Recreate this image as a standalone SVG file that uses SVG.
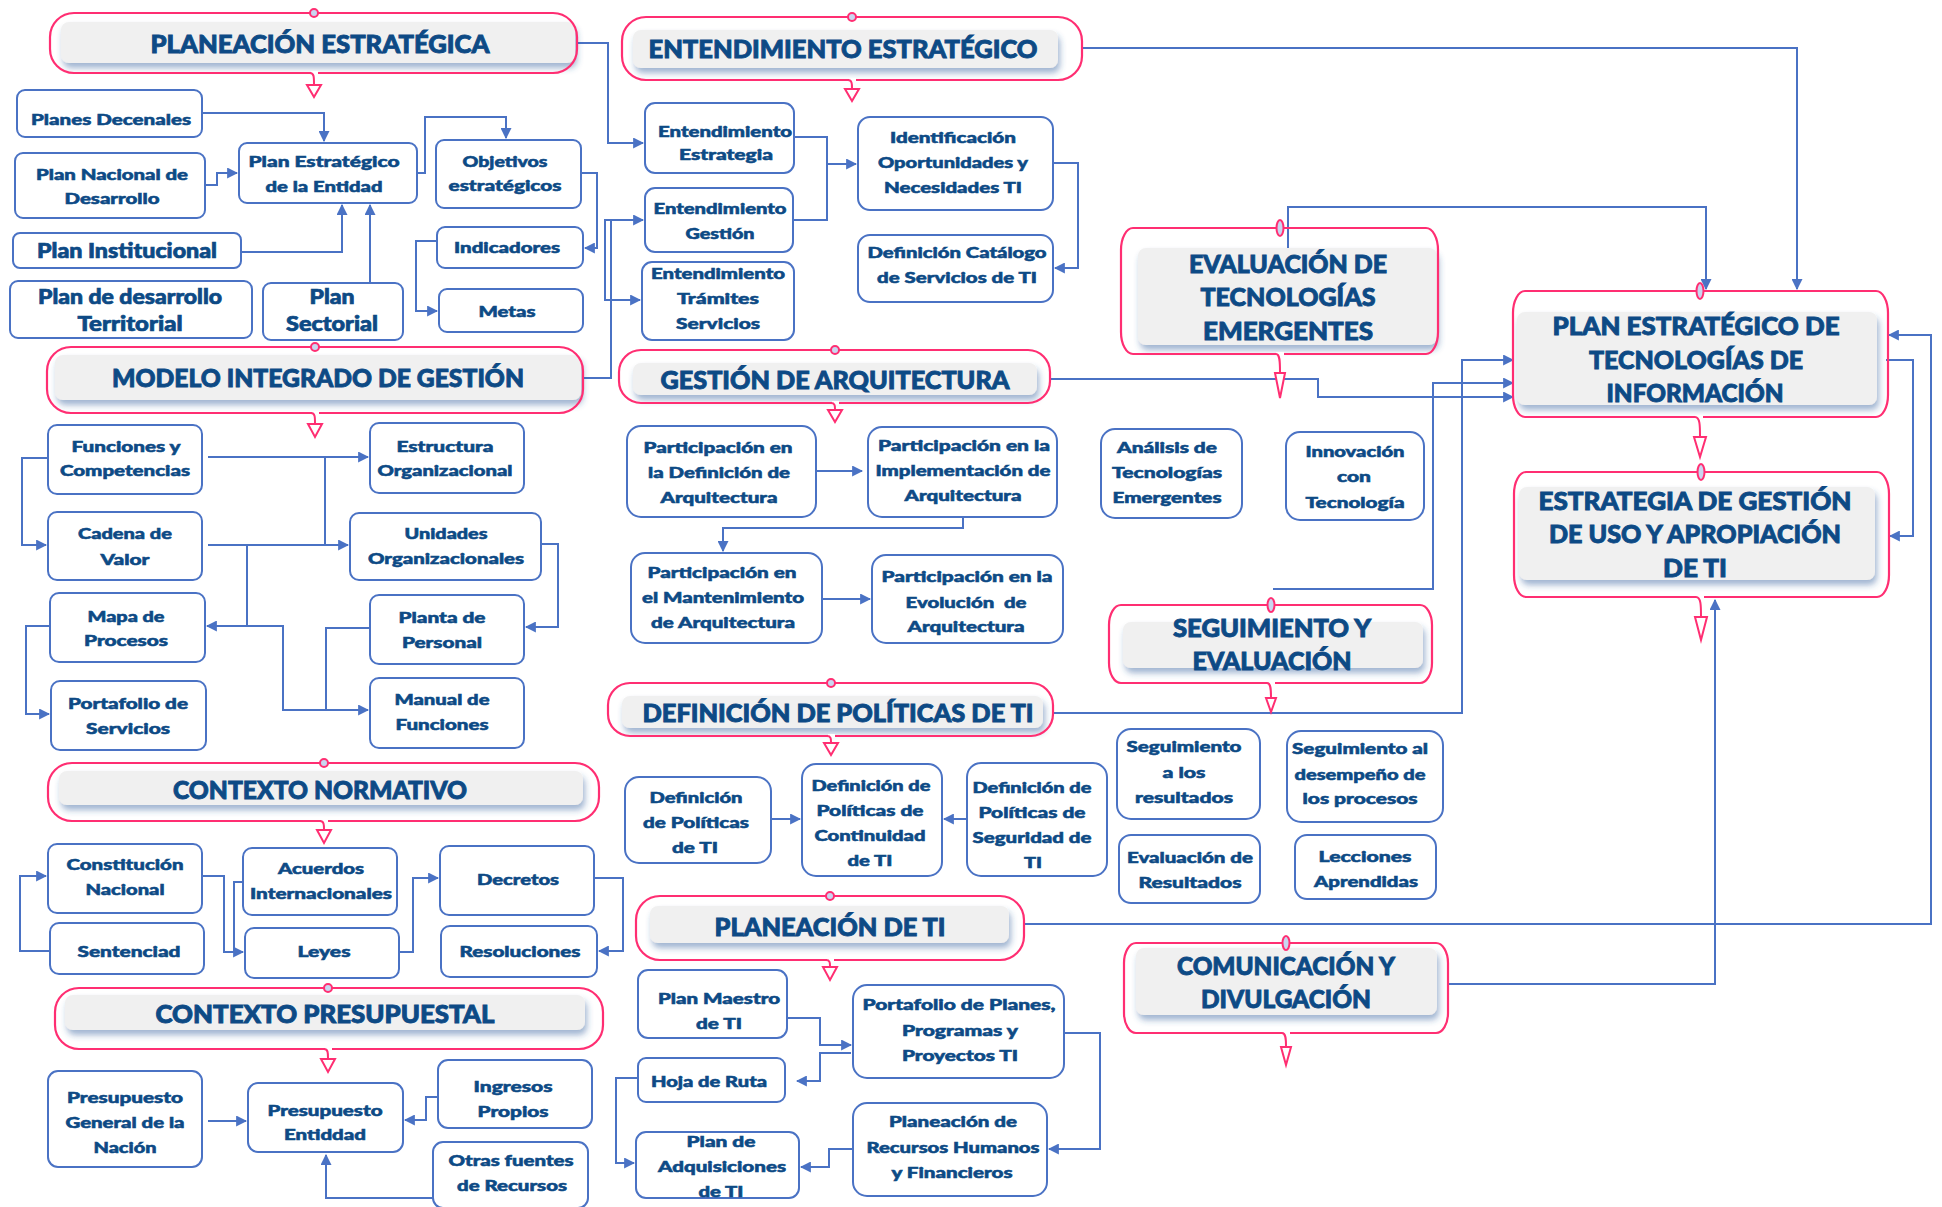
<svg xmlns="http://www.w3.org/2000/svg" width="1942" height="1207" viewBox="0 0 1942 1207">
<defs>
<style>
.pk{fill:none;stroke:#ff2e72;stroke-width:2.2}
.gb{fill:#f0f0f0;filter:url(#sh)}
.tt{font-family:Lato,'Open Sans','Liberation Sans',sans-serif;font-weight:900;fill:#0d4a85;stroke:#0d4a85;stroke-width:0.9;text-anchor:middle;font-size:25px}
.bx{fill:#fff;stroke:#4a72c4;stroke-width:2}
.bt{font-family:Lato,'Open Sans','Liberation Sans',sans-serif;font-weight:900;fill:#0d4a85;stroke:#0d4a85;stroke-width:0.55;text-anchor:middle;font-size:15px}
.bl{font-size:20px;stroke-width:0.7}
.cn{fill:none;stroke:#4a72c4;stroke-width:2}
.dot{fill:#c9d6f0;stroke:#ff2e72;stroke-width:2}
.tri{fill:#fff;stroke:#ff2e72;stroke-width:2}
.stem{fill:none;stroke:#ff2e72;stroke-width:2}
.gap{stroke:#fff;stroke-width:4}
</style>
<filter id="sh" x="-5%" y="-30%" width="110%" height="170%">
<feDropShadow dx="2" dy="5" stdDeviation="3" flood-color="#2d5a9a" flood-opacity="0.45"/>
</filter>
<marker id="ah" viewBox="0 0 10 10" refX="9" refY="5" markerWidth="11" markerHeight="11" markerUnits="userSpaceOnUse" orient="auto">
<path d="M0,0 L10,5 L0,10 z" fill="#4a72c4"/>
</marker>
</defs>
<rect width="1942" height="1207" fill="#fff"/>

<g id="connectors">
<path class="cn" marker-end="url(#ah)" d="M202,113 H324 V141"/>
<path class="cn" marker-end="url(#ah)" d="M205,185 H217 V173 H237"/>
<path class="cn" marker-end="url(#ah)" d="M241,252 H342 V205"/>
<path class="cn" marker-end="url(#ah)" d="M370,283 V205"/>
<path class="cn" marker-end="url(#ah)" d="M417,173 H425 V117 H506 V138"/>
<path class="cn" marker-end="url(#ah)" d="M581,173 H597 V248 H585"/>
<path class="cn" marker-end="url(#ah)" d="M437,241 H416 V311 H437"/>
<path class="cn" marker-end="url(#ah)" d="M577,43 H608 V143 H643"/>
<path class="cn" marker-end="url(#ah)" d="M583,378 H611 V220 H643"/>
<path class="cn" marker-end="url(#ah)" d="M611,220 H605 V300 H640"/>
<path class="cn" marker-end="url(#ah)" d="M794,137 H827 V164 H856"/>
<path class="cn" d="M793,220 H827 V164"/>
<path class="cn" marker-end="url(#ah)" d="M1053,163 H1078 V268 H1055"/>
<path class="cn" marker-end="url(#ah)" d="M1082,48 H1797 V289"/>
<path class="cn" marker-end="url(#ah)" d="M1288,248 V207 H1706 V289"/>
<path class="cn" marker-end="url(#ah)" d="M1050,379 H1318 V397 H1513"/>
<path class="cn" marker-end="url(#ah)" d="M1053,713 H1462 V360 H1513"/>
<path class="cn" marker-end="url(#ah)" d="M1273,589 H1433 V383 H1513"/>
<path class="cn" marker-end="url(#ah)" d="M1886,360 H1913 V536 H1890"/>
<path class="cn" marker-end="url(#ah)" d="M1024,924 H1931 V335 H1889"/>
<path class="cn" marker-end="url(#ah)" d="M1448,984 H1715 V600"/>
<path class="cn" marker-end="url(#ah)" d="M208,457 H368"/>
<path class="cn" d="M325,457 V545"/>
<path class="cn" marker-end="url(#ah)" d="M208,545 H348"/>
<path class="cn" marker-end="url(#ah)" d="M247,545 V626 H207"/>
<path class="cn" marker-end="url(#ah)" d="M247,626 H283 V710 H368"/>
<path class="cn" marker-end="url(#ah)" d="M48,458 H22 V545 H46"/>
<path class="cn" marker-end="url(#ah)" d="M50,626 H26 V714 H49"/>
<path class="cn" marker-end="url(#ah)" d="M541,544 H558 V627 H526"/>
<path class="cn" d="M370,628 H326 V710"/>
<path class="cn" marker-end="url(#ah)" d="M816,471 H862"/>
<path class="cn" marker-end="url(#ah)" d="M963,517 V528 H723 V551"/>
<path class="cn" marker-end="url(#ah)" d="M822,599 H870"/>
<path class="cn" marker-end="url(#ah)" d="M771,819 H800"/>
<path class="cn" marker-end="url(#ah)" d="M967,819 H944"/>
<path class="cn" marker-end="url(#ah)" d="M50,951 H20 V876 H46"/>
<path class="cn" marker-end="url(#ah)" d="M202,876 H224 V952 H243"/>
<path class="cn" d="M243,882 H234 V952"/>
<path class="cn" marker-end="url(#ah)" d="M399,952 H413 V878 H438"/>
<path class="cn" marker-end="url(#ah)" d="M594,878 H623 V951 H599"/>
<path class="cn" marker-end="url(#ah)" d="M208,1121 H246"/>
<path class="cn" marker-end="url(#ah)" d="M438,1097 H426 V1120 H405"/>
<path class="cn" marker-end="url(#ah)" d="M433,1198 H326 V1155"/>
<path class="cn" marker-end="url(#ah)" d="M787,1018 H820 V1045 H851"/>
<path class="cn" marker-end="url(#ah)" d="M851,1053 H820 V1081 H797"/>
<path class="cn" marker-end="url(#ah)" d="M638,1078 H616 V1163 H634"/>
<path class="cn" marker-end="url(#ah)" d="M1064,1033 H1100 V1149 H1049"/>
<path class="cn" marker-end="url(#ah)" d="M853,1149 H829 V1167 H801"/>
</g>

<!-- Section headers -->
<g id="planeacion-estrategica">
<rect class="gb" x="61" y="22" width="514" height="41" rx="8"/>
<rect class="pk" x="50" y="13" width="527" height="60" rx="24"/>
<line class="gap" x1="311" y1="73" x2="318" y2="73"/>
<circle class="dot" cx="314" cy="13" r="4"/>
<path class="stem" d="M310,73 C314,73 314,77 314,84"/>
<polygon class="tri" points="307,85 321,85 314,97"/>
<text class="tt" x="320" y="53" textLength="339" lengthAdjust="spacingAndGlyphs">PLANEACIÓN ESTRATÉGICA</text>
</g>
<g id="entendimiento-estrategico">
<rect class="gb" x="633" y="30" width="425" height="38" rx="8"/>
<rect class="pk" x="622" y="17" width="460" height="63" rx="24"/>
<line class="gap" x1="849" y1="80" x2="856" y2="80"/>
<circle class="dot" cx="852" cy="17" r="4"/>
<path class="stem" d="M848,80 C852,80 852,84 852,88"/>
<polygon class="tri" points="845,89 859,89 852,101"/>
<text class="tt" x="843" y="58" textLength="389" lengthAdjust="spacingAndGlyphs">ENTENDIMIENTO ESTRATÉGICO</text>
</g>
<g id="modelo-integrado">
<rect class="gb" x="55" y="355" width="526" height="45" rx="8"/>
<rect class="pk" x="47" y="347" width="536" height="66" rx="24"/>
<line class="gap" x1="312" y1="413" x2="319" y2="413"/>
<circle class="dot" cx="315" cy="347" r="4"/>
<path class="stem" d="M311,413 C315,413 315,417 315,423"/>
<polygon class="tri" points="308,424 322,424 315,437"/>
<text class="tt" x="318" y="387" textLength="412" lengthAdjust="spacingAndGlyphs">MODELO INTEGRADO DE GESTIÓN</text>
</g>
<g id="gestion-arquitectura">
<rect class="gb" x="633" y="363" width="404" height="32" rx="8"/>
<rect class="pk" x="619" y="350" width="431" height="53" rx="22"/>
<line class="gap" x1="832" y1="403" x2="839" y2="403"/>
<circle class="dot" cx="835" cy="350" r="4"/>
<path class="stem" d="M831,403 C835,403 835,406 835,409"/>
<polygon class="tri" points="828,410 842,410 835,422"/>
<text class="tt" x="835" y="389" textLength="349" lengthAdjust="spacingAndGlyphs">GESTIÓN DE ARQUITECTURA</text>
</g>
<g id="definicion-politicas">
<rect class="gb" x="622" y="696" width="421" height="32" rx="8"/>
<rect class="pk" x="608" y="683" width="445" height="53" rx="22"/>
<line class="gap" x1="828" y1="736" x2="835" y2="736"/>
<circle class="dot" cx="831" cy="683" r="4"/>
<path class="stem" d="M827,736 C831,736 831,739 831,742"/>
<polygon class="tri" points="824,743 838,743 831,755"/>
<text class="tt" x="838" y="722" textLength="391" lengthAdjust="spacingAndGlyphs">DEFINICIÓN DE POLÍTICAS DE TI</text>
</g>
<g id="contexto-normativo">
<rect class="gb" x="59" y="771" width="524" height="34" rx="8"/>
<rect class="pk" x="48" y="763" width="551" height="58" rx="24"/>
<line class="gap" x1="321" y1="821" x2="328" y2="821"/>
<circle class="dot" cx="324" cy="763" r="4"/>
<path class="stem" d="M320,821 C324,821 324,825 324,829"/>
<polygon class="tri" points="317,830 331,830 324,843"/>
<text class="tt" x="320" y="799" textLength="294" lengthAdjust="spacingAndGlyphs">CONTEXTO NORMATIVO</text>
</g>
<g id="contexto-presupuestal">
<rect class="gb" x="65" y="995" width="520" height="35" rx="8"/>
<rect class="pk" x="55" y="988" width="548" height="61" rx="24"/>
<line class="gap" x1="325" y1="1049" x2="332" y2="1049"/>
<circle class="dot" cx="328" cy="988" r="4"/>
<path class="stem" d="M324,1049 C328,1049 328,1053 328,1058"/>
<polygon class="tri" points="321,1059 335,1059 328,1072"/>
<text class="tt" x="325" y="1023" textLength="339" lengthAdjust="spacingAndGlyphs">CONTEXTO PRESUPUESTAL</text>
</g>
<g id="planeacion-ti">
<rect class="gb" x="650" y="906" width="359" height="37" rx="8"/>
<rect class="pk" x="636" y="896" width="388" height="64" rx="24"/>
<line class="gap" x1="827" y1="960" x2="834" y2="960"/>
<circle class="dot" cx="830" cy="896" r="4"/>
<path class="stem" d="M826,960 C830,960 830,963 830,966"/>
<polygon class="tri" points="823,967 837,967 830,980"/>
<text class="tt" x="830" y="936" textLength="231" lengthAdjust="spacingAndGlyphs">PLANEACIÓN DE TI</text>
</g>
<g id="evaluacion-tecnologias">
<rect class="gb" x="1138" y="248" width="299" height="97" rx="8"/>
<rect class="pk" x="1121" y="228" width="317" height="126" rx="12" ry="22"/>
<line class="gap" x1="1276" y1="354" x2="1284" y2="354"/>
<ellipse class="dot" cx="1280" cy="228" rx="3.5" ry="8"/>
<path class="stem" d="M1276,354 C1280,354 1280,362 1280,372"/>
<polygon class="tri" points="1275,373 1285,373 1280,398"/>
<text class="tt" x="1288" y="273" textLength="198" lengthAdjust="spacingAndGlyphs">EVALUACIÓN DE</text>
<text class="tt" x="1288" y="306" textLength="175" lengthAdjust="spacingAndGlyphs">TECNOLOGÍAS</text>
<text class="tt" x="1288" y="340" textLength="170" lengthAdjust="spacingAndGlyphs">EMERGENTES</text>
</g>
<g id="plan-estrategico-ti">
<rect class="gb" x="1517" y="312" width="360" height="93" rx="8"/>
<rect class="pk" x="1513" y="291" width="375" height="126" rx="12" ry="22"/>
<line class="gap" x1="1695" y1="417" x2="1703" y2="417"/>
<ellipse class="dot" cx="1700" cy="291" rx="3.5" ry="8"/>
<path class="stem" d="M1695,417 C1700,417 1700,426 1700,436"/>
<polygon class="tri" points="1694,437 1706,437 1700,457"/>
<text class="tt" x="1696" y="335" textLength="287" lengthAdjust="spacingAndGlyphs">PLAN ESTRATÉGICO DE</text>
<text class="tt" x="1696" y="369" textLength="214" lengthAdjust="spacingAndGlyphs">TECNOLOGÍAS DE</text>
<text class="tt" x="1695" y="402" textLength="177" lengthAdjust="spacingAndGlyphs">INFORMACIÓN</text>
</g>
<g id="estrategia-uso-apropiacion">
<rect class="gb" x="1519" y="487" width="356" height="93" rx="8"/>
<rect class="pk" x="1514" y="472" width="375" height="125" rx="12" ry="22"/>
<line class="gap" x1="1696" y1="597" x2="1704" y2="597"/>
<ellipse class="dot" cx="1701" cy="472" rx="3.5" ry="8"/>
<path class="stem" d="M1696,597 C1701,597 1701,606 1701,616"/>
<polygon class="tri" points="1695,617 1707,617 1701,640"/>
<text class="tt" x="1695" y="510" textLength="313" lengthAdjust="spacingAndGlyphs">ESTRATEGIA DE GESTIÓN</text>
<text class="tt" x="1695" y="543" textLength="292" lengthAdjust="spacingAndGlyphs">DE USO Y APROPIACIÓN</text>
<text class="tt" x="1695" y="577" textLength="64" lengthAdjust="spacingAndGlyphs">DE TI</text>
</g>
<g id="seguimiento-evaluacion">
<rect class="gb" x="1123" y="622" width="300" height="46" rx="8"/>
<rect class="pk" x="1109" y="605" width="323" height="78" rx="12" ry="20"/>
<line class="gap" x1="1267" y1="683" x2="1275" y2="683"/>
<ellipse class="dot" cx="1271" cy="605" rx="3.5" ry="7"/>
<path class="stem" d="M1267,683 C1271,683 1271,690 1271,697"/>
<polygon class="tri" points="1266,698 1276,698 1271,712"/>
<text class="tt" x="1272" y="637" textLength="198" lengthAdjust="spacingAndGlyphs">SEGUIMIENTO Y</text>
<text class="tt" x="1272" y="670" textLength="159" lengthAdjust="spacingAndGlyphs">EVALUACIÓN</text>
</g>
<g id="comunicacion-divulgacion">
<rect class="gb" x="1136" y="948" width="301" height="67" rx="8"/>
<rect class="pk" x="1124" y="943" width="324" height="90" rx="12" ry="20"/>
<line class="gap" x1="1282" y1="1033" x2="1290" y2="1033"/>
<ellipse class="dot" cx="1286" cy="943" rx="3.5" ry="7"/>
<path class="stem" d="M1282,1033 C1286,1033 1286,1040 1286,1046"/>
<polygon class="tri" points="1281,1047 1291,1047 1286,1065"/>
<text class="tt" x="1286" y="975" textLength="218" lengthAdjust="spacingAndGlyphs">COMUNICACIÓN Y</text>
<text class="tt" x="1286" y="1008" textLength="170" lengthAdjust="spacingAndGlyphs">DIVULGACIÓN</text>
</g>

<!-- Planeación estratégica nodes -->
<g id="planes-decenales"><rect class="bx" x="17" y="90" width="185" height="47" rx="8"/>
<text class="bt" x="111" y="125" textLength="160" lengthAdjust="spacingAndGlyphs">Planes Decenales</text></g>
<g id="plan-nacional"><rect class="bx" x="15" y="153" width="190" height="65" rx="8"/>
<text class="bt" x="112" y="180" textLength="152" lengthAdjust="spacingAndGlyphs">Plan Nacional de</text>
<text class="bt" x="112" y="204" textLength="95" lengthAdjust="spacingAndGlyphs">Desarrollo</text></g>
<g id="plan-estrategico-entidad"><rect class="bx" x="239" y="143" width="178" height="60" rx="8"/>
<text class="bt" x="324" y="167" textLength="151" lengthAdjust="spacingAndGlyphs">Plan Estratégico</text>
<text class="bt" x="324" y="192" textLength="117" lengthAdjust="spacingAndGlyphs">de la Entidad</text></g>
<g id="objetivos"><rect class="bx" x="436" y="140" width="145" height="68" rx="8"/>
<text class="bt" x="505" y="167" textLength="85" lengthAdjust="spacingAndGlyphs">Objetivos</text>
<text class="bt" x="505" y="191" textLength="113" lengthAdjust="spacingAndGlyphs">estratégicos</text></g>
<g id="plan-institucional"><rect class="bx" x="13" y="233" width="228" height="35" rx="7"/>
<text class="bt bl" x="127" y="258" textLength="180" lengthAdjust="spacingAndGlyphs">Plan Institucional</text></g>
<g id="plan-territorial"><rect class="bx" x="10" y="281" width="242" height="57" rx="8"/>
<text class="bt bl" x="130" y="304" textLength="184" lengthAdjust="spacingAndGlyphs">Plan de desarrollo</text>
<text class="bt bl" x="130" y="331" textLength="105" lengthAdjust="spacingAndGlyphs">Territorial</text></g>
<g id="plan-sectorial"><rect class="bx" x="263" y="283" width="140" height="57" rx="8"/>
<text class="bt bl" x="332" y="304" textLength="45" lengthAdjust="spacingAndGlyphs">Plan</text>
<text class="bt bl" x="332" y="331" textLength="92" lengthAdjust="spacingAndGlyphs">Sectorial</text></g>
<g id="indicadores"><rect class="bx" x="437" y="227" width="146" height="41" rx="8"/>
<text class="bt" x="507" y="253" textLength="106" lengthAdjust="spacingAndGlyphs">Indicadores</text></g>
<g id="metas"><rect class="bx" x="439" y="289" width="144" height="43" rx="8"/>
<text class="bt" x="507" y="317" textLength="57" lengthAdjust="spacingAndGlyphs">Metas</text></g>

<!-- Entendimiento nodes -->
<g id="ent-estrategia"><rect class="bx" x="645" y="103" width="149" height="70" rx="10"/>
<text class="bt" x="725" y="137" textLength="134" lengthAdjust="spacingAndGlyphs">Entendimiento</text>
<text class="bt" x="726" y="160" textLength="94" lengthAdjust="spacingAndGlyphs">Estrategia</text></g>
<g id="ent-gestion"><rect class="bx" x="645" y="188" width="148" height="64" rx="10"/>
<text class="bt" x="720" y="214" textLength="133" lengthAdjust="spacingAndGlyphs">Entendimiento</text>
<text class="bt" x="720" y="239" textLength="69" lengthAdjust="spacingAndGlyphs">Gestión</text></g>
<g id="ent-tramites"><rect class="bx" x="642" y="262" width="152" height="78" rx="10"/>
<text class="bt" x="718" y="279" textLength="134" lengthAdjust="spacingAndGlyphs">Entendimiento</text>
<text class="bt" x="718" y="304" textLength="82" lengthAdjust="spacingAndGlyphs">Trámites</text>
<text class="bt" x="718" y="329" textLength="84" lengthAdjust="spacingAndGlyphs">Servicios</text></g>
<g id="identificacion"><rect class="bx" x="858" y="117" width="195" height="93" rx="12"/>
<text class="bt" x="953" y="143" textLength="126" lengthAdjust="spacingAndGlyphs">Identificación</text>
<text class="bt" x="953" y="168" textLength="150" lengthAdjust="spacingAndGlyphs">Oportunidades y</text>
<text class="bt" x="953" y="193" textLength="138" lengthAdjust="spacingAndGlyphs">Necesidades TI</text></g>
<g id="catalogo"><rect class="bx" x="858" y="235" width="195" height="67" rx="12"/>
<text class="bt" x="957" y="258" textLength="179" lengthAdjust="spacingAndGlyphs">Definición Catálogo</text>
<text class="bt" x="957" y="283" textLength="160" lengthAdjust="spacingAndGlyphs">de Servicios de TI</text></g>

<!-- Modelo integrado nodes -->
<g id="funciones"><rect class="bx" x="48" y="425" width="154" height="69" rx="9"/>
<text class="bt" x="126" y="452" textLength="109" lengthAdjust="spacingAndGlyphs">Funciones y</text>
<text class="bt" x="125" y="476" textLength="130" lengthAdjust="spacingAndGlyphs">Competencias</text></g>
<g id="cadena"><rect class="bx" x="48" y="512" width="154" height="68" rx="9"/>
<text class="bt" x="125" y="539" textLength="94" lengthAdjust="spacingAndGlyphs">Cadena de</text>
<text class="bt" x="125" y="565" textLength="49" lengthAdjust="spacingAndGlyphs">Valor</text></g>
<g id="mapa"><rect class="bx" x="50" y="593" width="155" height="69" rx="9"/>
<text class="bt" x="126" y="622" textLength="77" lengthAdjust="spacingAndGlyphs">Mapa de</text>
<text class="bt" x="126" y="646" textLength="84" lengthAdjust="spacingAndGlyphs">Procesos</text></g>
<g id="portafolio-servicios"><rect class="bx" x="51" y="681" width="155" height="69" rx="9"/>
<text class="bt" x="128" y="709" textLength="120" lengthAdjust="spacingAndGlyphs">Portafolio de</text>
<text class="bt" x="128" y="734" textLength="84" lengthAdjust="spacingAndGlyphs">Servicios</text></g>
<g id="estructura"><rect class="bx" x="370" y="423" width="154" height="70" rx="9"/>
<text class="bt" x="445" y="452" textLength="97" lengthAdjust="spacingAndGlyphs">Estructura</text>
<text class="bt" x="445" y="476" textLength="135" lengthAdjust="spacingAndGlyphs">Organizacional</text></g>
<g id="unidades"><rect class="bx" x="350" y="513" width="191" height="67" rx="9"/>
<text class="bt" x="446" y="539" textLength="83" lengthAdjust="spacingAndGlyphs">Unidades</text>
<text class="bt" x="446" y="564" textLength="156" lengthAdjust="spacingAndGlyphs">Organizacionales</text></g>
<g id="planta"><rect class="bx" x="370" y="595" width="154" height="69" rx="9"/>
<text class="bt" x="442" y="623" textLength="87" lengthAdjust="spacingAndGlyphs">Planta de</text>
<text class="bt" x="442" y="648" textLength="80" lengthAdjust="spacingAndGlyphs">Personal</text></g>
<g id="manual"><rect class="bx" x="370" y="678" width="154" height="70" rx="9"/>
<text class="bt" x="442" y="705" textLength="95" lengthAdjust="spacingAndGlyphs">Manual de</text>
<text class="bt" x="442" y="730" textLength="93" lengthAdjust="spacingAndGlyphs">Funciones</text></g>

<!-- Arquitectura nodes -->
<g id="arq-definicion"><rect class="bx" x="627" y="426" width="189" height="91" rx="14"/>
<text class="bt" x="718" y="453" textLength="149" lengthAdjust="spacingAndGlyphs">Participación en</text>
<text class="bt" x="719" y="478" textLength="142" lengthAdjust="spacingAndGlyphs">la Definición de</text>
<text class="bt" x="719" y="503" textLength="117" lengthAdjust="spacingAndGlyphs">Arquitectura</text></g>
<g id="arq-implementacion"><rect class="bx" x="868" y="427" width="189" height="90" rx="14"/>
<text class="bt" x="964" y="451" textLength="172" lengthAdjust="spacingAndGlyphs">Participación en la</text>
<text class="bt" x="963" y="476" textLength="175" lengthAdjust="spacingAndGlyphs">Implementación de</text>
<text class="bt" x="963" y="501" textLength="117" lengthAdjust="spacingAndGlyphs">Arquitectura</text></g>
<g id="arq-mantenimiento"><rect class="bx" x="631" y="553" width="191" height="90" rx="14"/>
<text class="bt" x="722" y="578" textLength="149" lengthAdjust="spacingAndGlyphs">Participación en</text>
<text class="bt" x="723" y="603" textLength="162" lengthAdjust="spacingAndGlyphs">el Mantenimiento</text>
<text class="bt" x="723" y="628" textLength="144" lengthAdjust="spacingAndGlyphs">de Arquitectura</text></g>
<g id="arq-evolucion"><rect class="bx" x="872" y="555" width="191" height="88" rx="14"/>
<text class="bt" x="967" y="582" textLength="171" lengthAdjust="spacingAndGlyphs">Participación en la</text>
<text class="bt" x="966" y="608" textLength="121" lengthAdjust="spacingAndGlyphs" xml:space="preserve">Evolución  de</text>
<text class="bt" x="966" y="632" textLength="117" lengthAdjust="spacingAndGlyphs">Arquitectura</text></g>

<!-- Evaluación de tecnologías nodes -->
<g id="analisis"><rect class="bx" x="1101" y="429" width="141" height="89" rx="14"/>
<text class="bt" x="1167" y="453" textLength="100" lengthAdjust="spacingAndGlyphs">Análisis de</text>
<text class="bt" x="1167" y="478" textLength="110" lengthAdjust="spacingAndGlyphs">Tecnologías</text>
<text class="bt" x="1167" y="503" textLength="109" lengthAdjust="spacingAndGlyphs">Emergentes</text></g>
<g id="innovacion"><rect class="bx" x="1286" y="432" width="138" height="88" rx="14"/>
<text class="bt" x="1355" y="457" textLength="99" lengthAdjust="spacingAndGlyphs">Innovación</text>
<text class="bt" x="1354" y="482" textLength="34" lengthAdjust="spacingAndGlyphs">con</text>
<text class="bt" x="1355" y="508" textLength="99" lengthAdjust="spacingAndGlyphs">Tecnología</text></g>

<!-- Seguimiento nodes -->
<g id="seg-resultados"><rect class="bx" x="1117" y="729" width="143" height="90" rx="14"/>
<text class="bt" x="1184" y="752" textLength="115" lengthAdjust="spacingAndGlyphs">Seguimiento</text>
<text class="bt" x="1184" y="778" textLength="43" lengthAdjust="spacingAndGlyphs">a los</text>
<text class="bt" x="1184" y="803" textLength="98" lengthAdjust="spacingAndGlyphs">resultados</text></g>
<g id="seg-desempeno"><rect class="bx" x="1287" y="731" width="156" height="91" rx="14"/>
<text class="bt" x="1360" y="754" textLength="136" lengthAdjust="spacingAndGlyphs">Seguimiento al</text>
<text class="bt" x="1360" y="780" textLength="131" lengthAdjust="spacingAndGlyphs">desempeño de</text>
<text class="bt" x="1360" y="804" textLength="115" lengthAdjust="spacingAndGlyphs">los procesos</text></g>
<g id="eval-resultados"><rect class="bx" x="1119" y="835" width="141" height="68" rx="12"/>
<text class="bt" x="1190" y="863" textLength="126" lengthAdjust="spacingAndGlyphs">Evaluación de</text>
<text class="bt" x="1190" y="888" textLength="103" lengthAdjust="spacingAndGlyphs">Resultados</text></g>
<g id="lecciones"><rect class="bx" x="1295" y="835" width="141" height="64" rx="12"/>
<text class="bt" x="1365" y="862" textLength="93" lengthAdjust="spacingAndGlyphs">Lecciones</text>
<text class="bt" x="1366" y="887" textLength="104" lengthAdjust="spacingAndGlyphs">Aprendidas</text></g>

<!-- Políticas nodes -->
<g id="pol-ti"><rect class="bx" x="625" y="777" width="146" height="86" rx="14"/>
<text class="bt" x="696" y="803" textLength="93" lengthAdjust="spacingAndGlyphs">Definición</text>
<text class="bt" x="696" y="828" textLength="106" lengthAdjust="spacingAndGlyphs">de Políticas</text>
<text class="bt" x="695" y="853" textLength="46" lengthAdjust="spacingAndGlyphs">de TI</text></g>
<g id="pol-continuidad"><rect class="bx" x="802" y="764" width="140" height="112" rx="14"/>
<text class="bt" x="871" y="791" textLength="119" lengthAdjust="spacingAndGlyphs">Definición de</text>
<text class="bt" x="870" y="816" textLength="107" lengthAdjust="spacingAndGlyphs">Políticas de</text>
<text class="bt" x="870" y="841" textLength="111" lengthAdjust="spacingAndGlyphs">Continuidad</text>
<text class="bt" x="870" y="866" textLength="45" lengthAdjust="spacingAndGlyphs">de TI</text></g>
<g id="pol-seguridad"><rect class="bx" x="967" y="763" width="140" height="113" rx="14"/>
<text class="bt" x="1032" y="793" textLength="119" lengthAdjust="spacingAndGlyphs">Definición de</text>
<text class="bt" x="1032" y="818" textLength="107" lengthAdjust="spacingAndGlyphs">Políticas de</text>
<text class="bt" x="1032" y="843" textLength="119" lengthAdjust="spacingAndGlyphs">Seguridad de</text>
<text class="bt" x="1033" y="868" textLength="18" lengthAdjust="spacingAndGlyphs">TI</text></g>

<!-- Contexto normativo nodes -->
<g id="constitucion"><rect class="bx" x="48" y="844" width="154" height="69" rx="9"/>
<text class="bt" x="125" y="870" textLength="117" lengthAdjust="spacingAndGlyphs">Constitución</text>
<text class="bt" x="125" y="895" textLength="79" lengthAdjust="spacingAndGlyphs">Nacional</text></g>
<g id="sentenciad"><rect class="bx" x="50" y="923" width="154" height="51" rx="9"/>
<text class="bt" x="129" y="957" textLength="103" lengthAdjust="spacingAndGlyphs">Sentenciad</text></g>
<g id="acuerdos"><rect class="bx" x="243" y="848" width="154" height="67" rx="9"/>
<text class="bt" x="321" y="874" textLength="86" lengthAdjust="spacingAndGlyphs">Acuerdos</text>
<text class="bt" x="321" y="899" textLength="142" lengthAdjust="spacingAndGlyphs">Internacionales</text></g>
<g id="leyes"><rect class="bx" x="245" y="928" width="154" height="50" rx="9"/>
<text class="bt" x="324" y="957" textLength="53" lengthAdjust="spacingAndGlyphs">Leyes</text></g>
<g id="decretos"><rect class="bx" x="440" y="846" width="154" height="69" rx="9"/>
<text class="bt" x="518" y="885" textLength="82" lengthAdjust="spacingAndGlyphs">Decretos</text></g>
<g id="resoluciones"><rect class="bx" x="441" y="926" width="156" height="51" rx="9"/>
<text class="bt" x="520" y="957" textLength="121" lengthAdjust="spacingAndGlyphs">Resoluciones</text></g>

<!-- Contexto presupuestal nodes -->
<g id="pres-general"><rect class="bx" x="48" y="1071" width="154" height="96" rx="10"/>
<text class="bt" x="125" y="1103" textLength="116" lengthAdjust="spacingAndGlyphs">Presupuesto</text>
<text class="bt" x="125" y="1128" textLength="119" lengthAdjust="spacingAndGlyphs">General de la</text>
<text class="bt" x="125" y="1153" textLength="63" lengthAdjust="spacingAndGlyphs">Nación</text></g>
<g id="pres-entidad"><rect class="bx" x="248" y="1083" width="155" height="69" rx="10"/>
<text class="bt" x="325" y="1116" textLength="115" lengthAdjust="spacingAndGlyphs">Presupuesto</text>
<text class="bt" x="325" y="1140" textLength="82" lengthAdjust="spacingAndGlyphs">Entiddad</text></g>
<g id="ingresos"><rect class="bx" x="438" y="1060" width="154" height="68" rx="10"/>
<text class="bt" x="513" y="1092" textLength="79" lengthAdjust="spacingAndGlyphs">Ingresos</text>
<text class="bt" x="513" y="1117" textLength="71" lengthAdjust="spacingAndGlyphs">Propios</text></g>
<g id="otras-fuentes"><rect class="bx" x="433" y="1142" width="155" height="66" rx="10"/>
<text class="bt" x="511" y="1166" textLength="125" lengthAdjust="spacingAndGlyphs">Otras fuentes</text>
<text class="bt" x="512" y="1191" textLength="110" lengthAdjust="spacingAndGlyphs">de Recursos</text></g>

<!-- Planeación de TI nodes -->
<g id="plan-maestro"><rect class="bx" x="638" y="970" width="149" height="68" rx="10"/>
<text class="bt" x="719" y="1004" textLength="122" lengthAdjust="spacingAndGlyphs">Plan Maestro</text>
<text class="bt" x="719" y="1029" textLength="46" lengthAdjust="spacingAndGlyphs">de TI</text></g>
<g id="hoja-ruta"><rect class="bx" x="638" y="1058" width="147" height="44" rx="8"/>
<text class="bt" x="709" y="1087" textLength="116" lengthAdjust="spacingAndGlyphs">Hoja de Ruta</text></g>
<g id="plan-adquisiciones"><rect class="bx" x="636" y="1132" width="163" height="66" rx="10"/>
<text class="bt" x="721" y="1147" textLength="69" lengthAdjust="spacingAndGlyphs">Plan de</text>
<text class="bt" x="722" y="1172" textLength="128" lengthAdjust="spacingAndGlyphs">Adquisiciones</text>
<text class="bt" x="721" y="1197" textLength="45" lengthAdjust="spacingAndGlyphs">de TI</text></g>
<g id="portafolio-planes"><rect class="bx" x="853" y="985" width="211" height="93" rx="14"/>
<text class="bt" x="959" y="1010" textLength="193" lengthAdjust="spacingAndGlyphs">Portafolio de Planes,</text>
<text class="bt" x="960" y="1036" textLength="116" lengthAdjust="spacingAndGlyphs">Programas y</text>
<text class="bt" x="960" y="1061" textLength="116" lengthAdjust="spacingAndGlyphs">Proyectos TI</text></g>
<g id="planeacion-recursos"><rect class="bx" x="853" y="1103" width="194" height="93" rx="14"/>
<text class="bt" x="953" y="1127" textLength="128" lengthAdjust="spacingAndGlyphs">Planeación de</text>
<text class="bt" x="953" y="1153" textLength="173" lengthAdjust="spacingAndGlyphs">Recursos Humanos</text>
<text class="bt" x="952" y="1178" textLength="121" lengthAdjust="spacingAndGlyphs">y Financieros</text></g>
</svg>
